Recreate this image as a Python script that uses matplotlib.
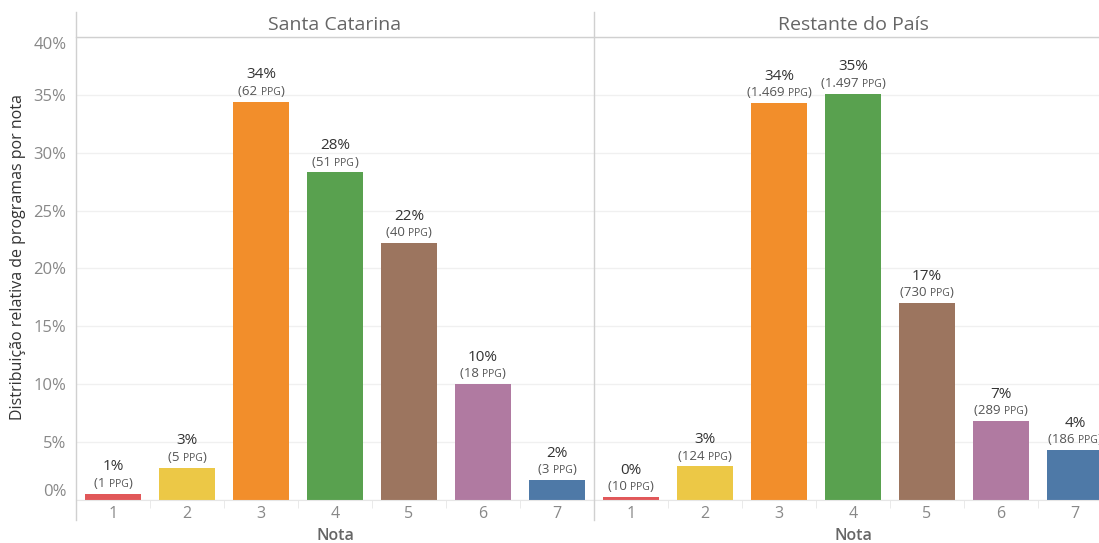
import matplotlib
matplotlib.use("Agg")
import matplotlib.pyplot as plt
from matplotlib.lines import Line2D
from matplotlib.offsetbox import TextArea, HPacker, AnnotationBbox

plt.rcParams['font.family'] = ['Open Sans', 'DejaVu Sans']

notas = ['1', '2', '3', '4', '5', '6', '7']
cores = ['#e15759', '#ecc846', '#f28e2b', '#59a14f', '#9c755f', '#b07aa1', '#4e79a7']

sc_pct = [0.55, 2.8, 34.4, 28.3, 22.2, 10.0, 1.7]
sc_txt = ['1%', '3%', '34%', '28%', '22%', '10%', '2%']
sc_ppg = ['1', '5', '62', '51', '40', '18', '3']

br_pct = [0.23, 2.9, 34.3, 35.1, 17.0, 6.8, 4.3]
br_txt = ['0%', '3%', '34%', '35%', '17%', '7%', '4%']
br_ppg = ['10', '124', '1.469', '1.497', '730', '289', '186']

paineis = ['Santa Catarina', 'Restante do País']

W, H = 1099, 543
fig = plt.figure(figsize=(W / 100, H / 100), dpi=100)


def fx(px):
    return px / W


def fy(py):
    return 1 - py / H


def painel(left, pct, txt, ppg, titulo, first):
    ax = fig.add_axes([fx(left), fy(500), fx(518), 463 / H])
    x = list(range(1, len(notas) + 1))
    ax.bar(x, pct, width=0.75, color=cores, zorder=2)
    ax.set_xlim(0.5, 7.5)
    ax.set_ylim(0, 40)
    ax.set_yticks(range(0, 45, 5))
    ax.grid(axis='y', color='#f0f0f0', linewidth=1, zorder=0)
    for s in ['top', 'right', 'left']:
        ax.spines[s].set_visible(False)
    ax.spines['bottom'].set_color('#e6e6e6')
    ax.set_xticks(x)
    ax.set_xticklabels(notas)
    ax.set_xticks([i + 0.5 for i in range(0, 8)], minor=True)
    ax.tick_params(axis='x', which='major', length=0, pad=4, labelsize=11.5, labelcolor='#888888')
    ax.tick_params(axis='x', which='minor', length=6, color='#e6e6e6')
    if first:
        ax.set_yticklabels([f'{v}%' for v in range(0, 45, 5)])
        ax.tick_params(axis='y', length=0, pad=7, labelsize=12, labelcolor='#888888')
        labs = ax.get_yticklabels()
        labs[0].set_va('bottom')
        labs[-1].set_va('top')
    else:
        ax.tick_params(axis='y', length=0, labelleft=False)
    ax.set_xlabel('Nota', fontsize=11.5, color='#666666', fontweight='semibold', labelpad=5)

    for xi, v, t, n in zip(x, pct, txt, ppg):
        ax.annotate(t, (xi, v), xytext=(0, 14), textcoords='offset points',
                    ha='center', va='bottom', fontsize=11, color='#333333', zorder=3)
        box = HPacker(children=[
            TextArea('(' + n + ' ', textprops=dict(fontsize=9.5, color='#555555')),
            TextArea('PPG', textprops=dict(fontsize=7.5, color='#555555')),
            TextArea(')', textprops=dict(fontsize=9.5, color='#555555')),
        ], align='baseline', pad=0, sep=0)
        ab = AnnotationBbox(box, (xi, v), xybox=(0, 7.5), xycoords='data',
                            boxcoords='offset points', frameon=False,
                            box_alignment=(0.5, 0.5), annotation_clip=False)
        ax.add_artist(ab)

    fig.text(fx(left + 259), fy(25), titulo, ha='center', va='center',
             fontsize=14, color='#666666')
    return ax


ax1 = painel(76, sc_pct, sc_txt, sc_ppg, paineis[0], True)
ax2 = painel(594, br_pct, br_txt, br_ppg, paineis[1], False)

fig.text(fx(18), fy(257), 'Distribuição relativa de programas por nota', rotation=90,
         ha='center', va='center', fontsize=11.5, color='#333333')

# header line and vertical dividers
fig.add_artist(Line2D([fx(76), 1], [fy(37), fy(37)], color='#d0d0d0', linewidth=1))
fig.add_artist(Line2D([fx(76), fx(76)], [fy(12), fy(520)], color='#d0d0d0', linewidth=1))
fig.add_artist(Line2D([fx(594), fx(594)], [fy(12), fy(520)], color='#d0d0d0', linewidth=1))

fig.savefig('out.png', dpi=100)
